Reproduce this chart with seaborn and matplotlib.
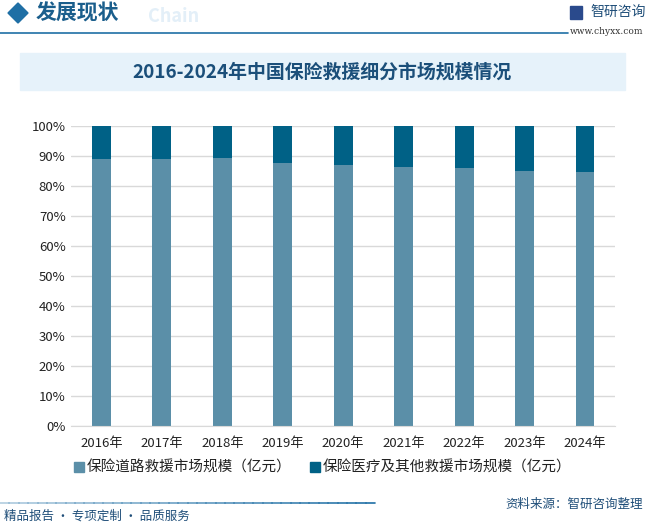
import matplotlib
matplotlib.use('Agg')
import matplotlib.pyplot as plt
from matplotlib.patches import Rectangle, Polygon
from matplotlib.lines import Line2D
import pandas as pd
import seaborn as sns

# data (share of total, %)
years = ['2016年', '2017年', '2018年', '2019年', '2020年', '2021年', '2022年', '2023年', '2024年']
road_share = [89.1, 89.1, 89.4, 87.8, 87.1, 86.4, 86.1, 85.1, 84.8]
other_share = [100 - v for v in road_share]
series_names = ['保险道路救援市场规模（亿元）', '保险医疗及其他救援市场规模（亿元）']
y_ticks = [0, 10, 20, 30, 40, 50, 60, 70, 80, 90, 100]

light_col = '#5B8FA8'
dark_col = '#006186'
blue = '#1F6FA5'

sns.set_style("white")
plt.rcParams['font.family'] = ['Noto Sans CJK SC', 'DejaVu Sans']

df = pd.DataFrame({'year': years, 'road': road_share, 'other': other_share})
df['total'] = df['road'] + df['other']

fig = plt.figure(figsize=(6.47, 5.25), dpi=100)
ax = fig.add_axes([0.110, 0.1886, 0.841, 0.5714])

sns.barplot(data=df, x='year', y='total', color=dark_col, width=0.31,
            saturation=1, ax=ax, errorbar=None, linewidth=0)
sns.barplot(data=df, x='year', y='road', color=light_col, width=0.31,
            saturation=1, ax=ax, errorbar=None, linewidth=0)

ax.set_ylim(0, 100)
ax.set_xlim(-0.5, len(years) - 0.5)
ax.set_yticks(y_ticks)
ax.set_yticklabels([f'{v}%' for v in y_ticks])
ax.set_xlabel('')
ax.set_ylabel('')
ax.yaxis.grid(True, color='#D9D9D9', linewidth=1)
ax.set_axisbelow(True)
for s in ['top', 'right', 'left']:
    ax.spines[s].set_visible(False)
ax.spines['bottom'].set_color('#D9D9D9')
ax.tick_params(axis='both', length=0, labelsize=9.5, colors='#222222')
ax.tick_params(axis='x', pad=8)
ax.tick_params(axis='y', pad=4)

# legend
handles = [Line2D([0], [0], marker='s', linestyle='', markersize=6.5, color=light_col),
           Line2D([0], [0], marker='s', linestyle='', markersize=6.5, color=dark_col)]
fig.legend(handles, series_names, loc='center left', bbox_to_anchor=(74 / 647, 0.109),
           ncol=2, frameon=False, fontsize=10.5, handletextpad=0.15, handlelength=0.7,
           columnspacing=1.3, borderpad=0, borderaxespad=0, labelcolor='#222222')

# title band
fig.patches.append(Rectangle((20 / 647, 1 - 90 / 525), 605 / 647, 37 / 525,
                             transform=fig.transFigure, color='#E6F2FA', zorder=0))
fig.text(322 / 647, 1 - 72 / 525, '2016-2024年中国保险救援细分市场规模情况',
         ha='center', va='center', fontsize=13.6, fontweight='bold', color='#1B4F7A')

# header
fig.patches.append(Polygon([(8 / 647, 1 - 13 / 525), (18 / 647, 1 - 3 / 525),
                            (28 / 647, 1 - 13 / 525), (18 / 647, 1 - 23 / 525)],
                           closed=True, transform=fig.transFigure, color=blue))
fig.text(148 / 647, 1 - 16 / 525, 'Chain', ha='left', va='center', fontsize=13,
         fontweight='bold', color='#E3EFF8')
fig.text(36 / 647, 1 - 13 / 525, '发展现状', ha='left', va='center', fontsize=15,
         fontweight='bold', color='#1A5E8C')
fig.add_artist(Line2D([0, 568 / 647], [1 - 33 / 525, 1 - 33 / 525],
                      transform=fig.transFigure, color=blue, linewidth=1.2))
fig.text(590 / 647, 1 - 12 / 525, '智研咨询', ha='left', va='center', fontsize=10,
         color='#1F4E79')
fig.patches.append(Rectangle((570 / 647, 1 - 19 / 525), 12 / 647, 13 / 525,
                             transform=fig.transFigure, color='#2A4A8C'))
fig.text(643 / 647, 1 - 32 / 525, 'www.chyxx.com', ha='right', va='center', fontsize=6.5,
         color='#333333', family='DejaVu Serif')

# footer
for i in range(40):
    x0 = i * 375 / 40 / 647
    x1 = (i + 1) * 375 / 40 / 647
    alpha = 0.35 + 0.65 * (i / 39)
    fig.add_artist(Line2D([x0, x1], [1 - 503 / 525, 1 - 503 / 525], transform=fig.transFigure,
                          color=blue, alpha=alpha, linewidth=1.2))
fig.text(4 / 647, 1 - 516 / 525, '精品报告 · 专项定制 · 品质服务', ha='left', va='center',
         fontsize=9, color='#1F4E79')
fig.text(643 / 647, 1 - 504 / 525, '资料来源：智研咨询整理', ha='right', va='center',
         fontsize=9, color='#1F4E79')

fig.savefig('out.png', dpi=100)
